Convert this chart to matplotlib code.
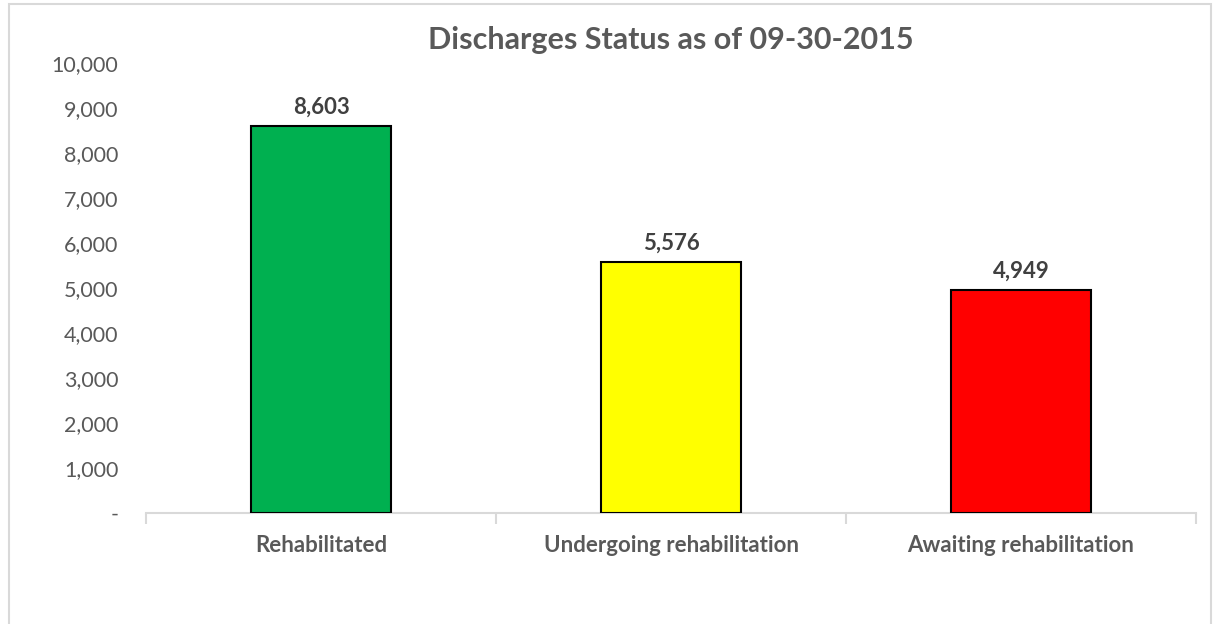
import matplotlib
matplotlib.use("Agg")
import matplotlib.pyplot as plt
from matplotlib.patches import Rectangle
from matplotlib.ticker import FuncFormatter

# data
categories = ["Rehabilitated", "Undergoing rehabilitation", "Awaiting rehabilitation"]
values = [8603, 5576, 4949]
bar_colors = ["#00B050", "#FFFF00", "#FF0000"]
title = "Discharges Status as of 09-30-2015"

plt.rcParams['font.family'] = ['Lato', 'DejaVu Sans']

fig = plt.figure(figsize=(12.2, 6.24), dpi=100)
ax = fig.add_axes([146 / 1220, 1 - 513 / 624, 1050 / 1220, 450 / 624])

x = range(len(categories))
bars = ax.bar(x, values, width=0.4, color=bar_colors, edgecolor="black", linewidth=1.5, zorder=3)

# value labels
ax.bar_label(bars, labels=[f"{v:,}" for v in values], padding=6,
             fontsize=16, fontweight="bold", color="#404040")

ax.set_xlim(-0.5, len(categories) - 0.5)
ax.set_ylim(0, 10000)
ax.set_yticks(range(0, 10001, 1000))
ax.yaxis.set_major_formatter(FuncFormatter(lambda v, p: "-" if v == 0 else f"{int(v):,}"))
ax.tick_params(axis="y", length=0, pad=20, labelsize=15.5, labelcolor="#595959")

ax.set_xticks(list(x))
ax.set_xticklabels(categories, fontsize=16, fontweight="bold", color="#595959")
ax.set_xticks([i - 0.5 for i in range(len(categories) + 1)], minor=True)
ax.tick_params(axis="x", which="major", length=0, pad=16)
ax.tick_params(axis="x", which="minor", length=8, width=1.5, color="#D9D9D9")

for s in ["top", "right", "left"]:
    ax.spines[s].set_visible(False)
ax.spines["bottom"].set_color("#D9D9D9")
ax.spines["bottom"].set_linewidth(1.5)

fig.text(671 / 1220, 1 - 40 / 624, title, ha="center", va="center",
         fontsize=22, fontweight="bold", color="#595959")

# chart border
fig.patches.append(Rectangle((9 / 1220, -0.01), 1202 / 1220, 1 - 4 / 624 + 0.01,
                             transform=fig.transFigure, fill=False,
                             edgecolor="#D9D9D9", linewidth=1.5))

fig.savefig("out.png", dpi=100)
